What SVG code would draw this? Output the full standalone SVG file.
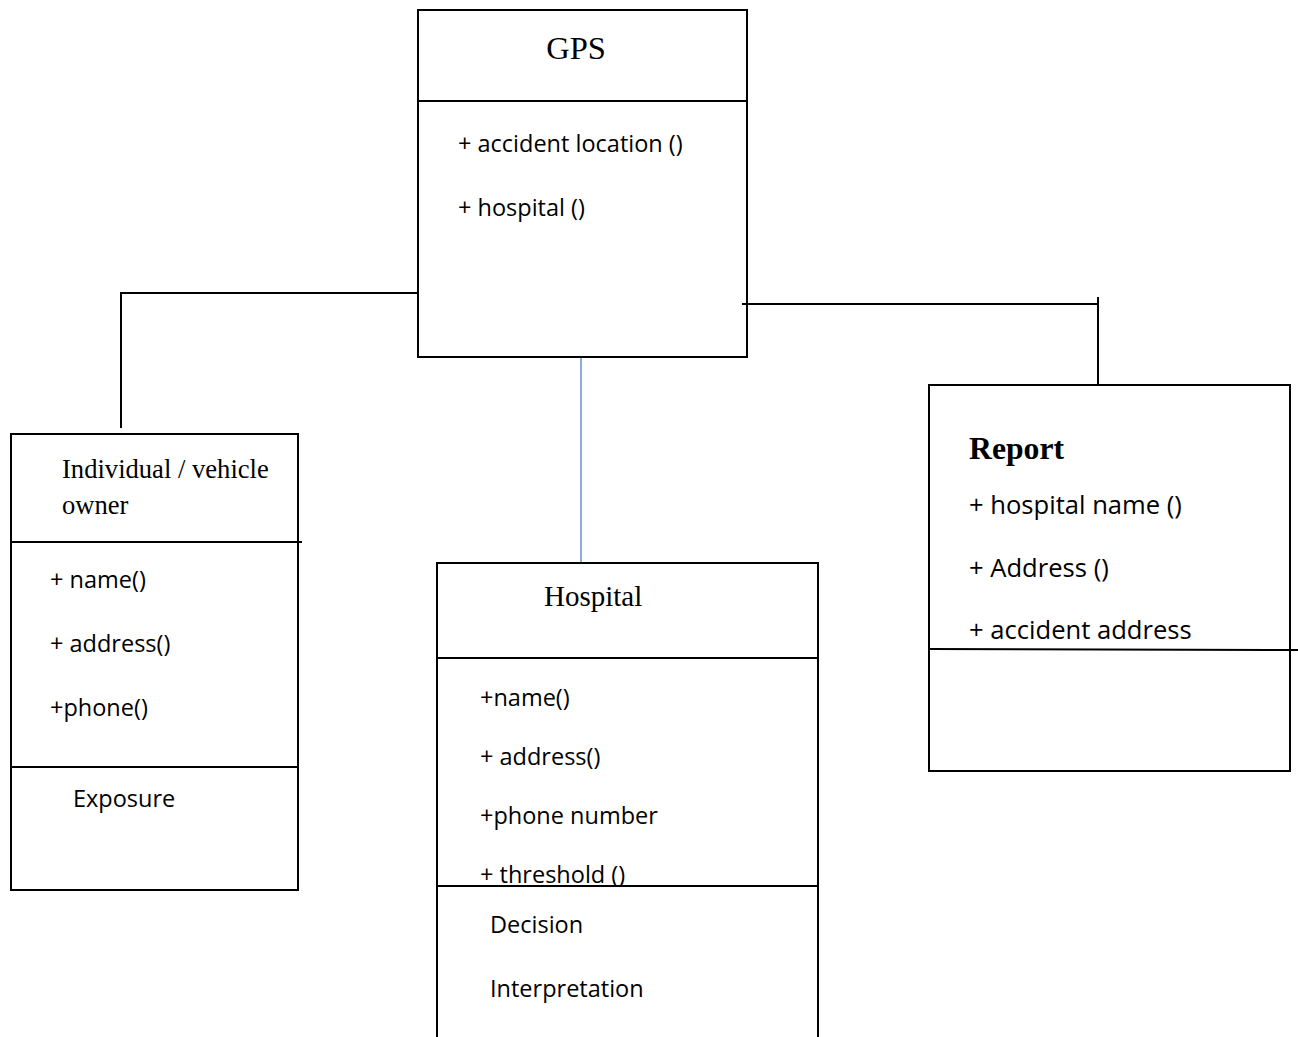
<svg xmlns="http://www.w3.org/2000/svg" width="1298" height="1037" viewBox="0 0 1298 1037">
<style>
.box{fill:none;stroke:#000;stroke-width:2}
.ln{stroke:#000;stroke-width:2;fill:none}
.t{font-family:"Open Sans","Liberation Sans",sans-serif;font-size:23.5px;fill:#000}
.t2{font-size:25.6px}
.s{font-family:"Liberation Serif","Times New Roman",serif;fill:#000}
</style>
<rect width="1298" height="1037" fill="#fff"/>
<g id="connectors">
<polyline class="ln" points="418,293 120,293"/>
<line class="ln" x1="121" y1="293" x2="121" y2="428"/>
<line x1="581" y1="358" x2="581" y2="563" stroke="#4472c4" stroke-width="1.2"/>
<polyline class="ln" points="742,304 1098,304"/>
<line class="ln" x1="1098" y1="297" x2="1098" y2="384"/>
</g>
<g id="gps">
<rect class="box" x="418" y="10" width="329" height="347"/>
<line class="ln" x1="418" y1="101" x2="747" y2="101"/>
<text class="s" x="576" y="59" font-size="32.5" text-anchor="middle">GPS</text>
<text class="t" x="458" y="152">+ accident location ()</text>
<text class="t" x="458" y="216">+ hospital ()</text>
</g>
<g id="individual">
<rect class="box" x="11" y="434" width="287" height="456"/>
<line class="ln" x1="11" y1="542" x2="302" y2="542"/>
<line class="ln" x1="11" y1="767" x2="298" y2="767"/>
<text class="s" x="62" y="478" font-size="26.6">Individual / vehicle</text>
<text class="s" x="62" y="514" font-size="26.6">owner</text>
<text class="t" x="50" y="588">+ name()</text>
<text class="t" x="50" y="652">+ address()</text>
<text class="t" x="50" y="716">+phone()</text>
<text class="t" x="73" y="807">Exposure</text>
</g>
<g id="hospital">
<polyline class="ln" points="437,1040 437,563 818,563 818,1040"/>
<line class="ln" x1="437" y1="658" x2="818" y2="658"/>
<line class="ln" x1="437" y1="886" x2="818" y2="886"/>
<text class="s" x="544" y="606" font-size="29">Hospital</text>
<text class="t" x="480" y="706">+name()</text>
<text class="t" x="480" y="765">+ address()</text>
<text class="t" x="480" y="824">+phone number</text>
<text class="t" x="480" y="883">+ threshold ()</text>
<text class="t" x="490" y="933">Decision</text>
<text class="t" x="490" y="997">Interpretation</text>
</g>
<g id="report">
<rect class="box" x="929" y="385" width="361" height="386"/>
<line class="ln" x1="929" y1="649" x2="1298" y2="650"/>
<text class="s" x="969" y="459" font-size="31.7" font-weight="bold">Report</text>
<text class="t t2" x="969" y="514">+ hospital name ()</text>
<text class="t t2" x="969" y="577">+ Address ()</text>
<text class="t t2" x="969" y="639">+ accident address</text>
</g>
</svg>
